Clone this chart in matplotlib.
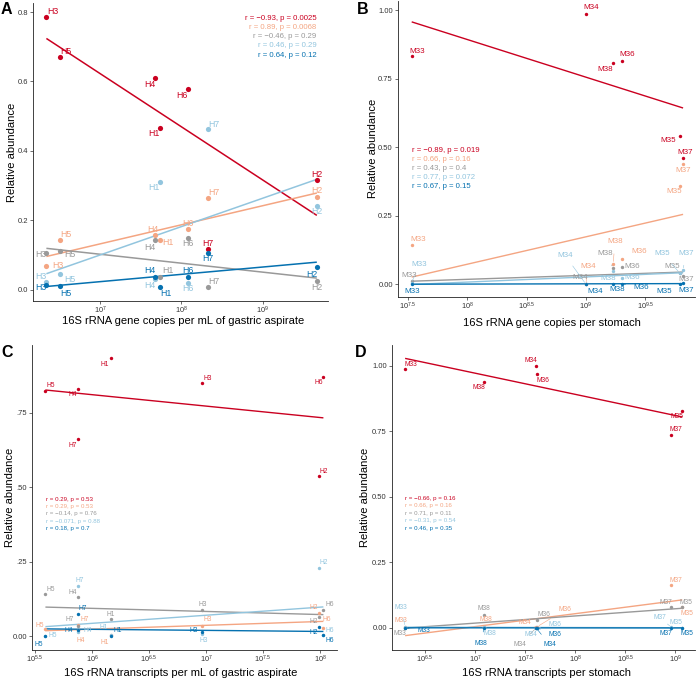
import numpy as np
import matplotlib
matplotlib.use('Agg')
import matplotlib.pyplot as plt

plt.rcParams['font.family'] = ['Liberation Sans', 'DejaVu Sans']
plt.rcParams['mathtext.default'] = 'regular'

# ---------------- data ----------------
colors = ['#CA0020', '#F4A582', '#999999', '#92C5DE', '#0571B0']

# Panel A: 16S rRNA gene copies per mL of gastric aspirate
a_samples = ['H1', 'H2', 'H3', 'H4', 'H5', 'H6', 'H7']
a_x = [5.5e7, 4.6e9, 2.2e6, 4.8e7, 3.2e6, 1.2e8, 2.1e8]
a_red = [0.467, 0.315, 0.786, 0.609, 0.671, 0.578, 0.117]
a_orange = [0.143, 0.268, 0.069, 0.157, 0.143, 0.176, 0.264]
a_gray = [0.036, 0.027, 0.105, 0.143, 0.111, 0.150, 0.009]
a_lblue = [0.312, 0.242, 0.024, 0.032, 0.046, 0.021, 0.462]
a_dblue = [0.008, 0.065, 0.013, 0.038, 0.010, 0.037, 0.107]
a_stats = ['r = \u22120.93, p = 0.0025', 'r = 0.89, p = 0.0068', 'r = \u22120.46, p = 0.29',
           'r = 0.46, p = 0.29', 'r = 0.64, p = 0.12']

# Panel B: 16S rRNA gene copies per stomach
b_samples = ['M33', 'M34', 'M35', 'M36', 'M37', 'M38']
b_x = [3.4e7, 1.0e9, 6.2e9, 2.0e9, 6.6e9, 1.7e9]
b_red = [0.832, 0.986, 0.540, 0.816, 0.460, 0.809]
b_orange = [0.143, 0.0, 0.358, 0.090, 0.438, 0.075]
b_gray = [0.010, 0.0, 0.040, 0.062, 0.030, 0.060]
b_lblue = [0.005, 0.0, 0.040, 0.024, 0.052, 0.049]
b_dblue = [0.0, 0.0, 0.001, 0.002, 0.003, 0.001]
b_stats = ['r = \u22120.89, p = 0.019', 'r = 0.66, p = 0.16', 'r = 0.43, p = 0.4',
           'r = 0.77, p = 0.072', 'r = 0.67, p = 0.15']

# Panel C: 16S rRNA transcripts per mL of gastric aspirate
c_samples = ['H1', 'H2', 'H3', 'H4', 'H5', 'H6', 'H7']
c_x = [1.46e6, 9.8e7, 9.3e6, 7.6e5, 3.9e5, 1.07e8, 7.5e5]
c_red = [0.932, 0.537, 0.848, 0.830, 0.822, 0.870, 0.660]
c_orange = [0.003, 0.076, 0.035, 0.020, 0.022, 0.026, 0.037]
c_gray = [0.057, 0.065, 0.087, 0.130, 0.142, 0.087, 0.035]
c_lblue = [0.003, 0.227, 0.007, 0.012, 0.001, 0.003, 0.167]
c_dblue = [0.001, 0.031, 0.014, 0.020, 0.000, 0.002, 0.073]
c_stats = ['r = 0.29, p = 0.53', 'r = 0.29, p = 0.53', 'r = \u22120.14, p = 0.76',
           'r = \u22120.071, p = 0.88', 'r = 0.18, p = 0.7']

# Panel D: 16S rRNA transcripts per stomach
d_samples = ['M33', 'M34', 'M35', 'M36', 'M37', 'M38']
d_x = [2.0e6, 4.07e7, 1.17e9, 4.17e7, 9.1e8, 1.23e7]
d_red = [0.987, 1.0, 0.829, 0.968, 0.737, 0.938]
d_orange = [0.005, 0.003, 0.079, 0.005, 0.164, 0.005]
d_gray = [0.0, 0.0, 0.080, 0.030, 0.079, 0.050]
d_lblue = [0.005, 0.0, 0.001, 0.0, 0.003, 0.003]
d_dblue = [0.001, 0.0, 0.0, 0.0, 0.001, 0.001]
d_stats = ['r = \u22120.66, p = 0.16', 'r = 0.66, p = 0.16', 'r = 0.71, p = 0.11',
           'r = \u22120.31, p = 0.54', 'r = 0.46, p = 0.35']

# ---------------- label layout (offsets in pixels, per series, per sample) ----------------
a_off = [
    [(-6, -6.3), (0, 5.7), (6, 5.3), (-5.7, -6), (6, 5.7), (-5.5, -6.7), (0, 5.3)],
    [(7.7, -2.4), (0, 6.3), (11.7, 0), (-2.4, 6), (6.4, 5.6), (0, 5.7), (6.3, 6)],
    [(7.7, 6.6), (0, -7), (-6, -1.5), (-5.7, -7), (10, -3), (0, -5.6), (6.3, 5.3)],
    [(-6, -6), (0, -5.7), (-5.4, 5), (-5.7, -7), (10, -5.3), (0, -5.6), (6.3, 5.3)],
    [(5.7, -6.7), (-5.3, -6.7), (-6, -2.3), (-5.7, 5.7), (6.4, -6.6), (0, 6.3), (0, -5.6)],
]
b_off = [
    [(5.7, 5.3), (5.6, 6.4), (-11.4, -4.7), (5.6, 6), (2, 5.3), (-7.7, -6.7)],
    [(6.4, 5.7), (2.3, 18), (-5.7, -5.7), (17.3, 7.6), (0, -6), (1.7, 21.6)],
    [(-2.6, 6.3), (-6, 6.7), (-7.4, 7), (10.6, 1), (2.6, -3.6), (-8.3, 13.7)],
    [(7.4, 18.6), (-21, 29), (-17.4, 19.7), (10.6, 0), (2.6, 16.4), (-5, -7.6)],
    [(0, -7.7), (9, -7.7), (-15.7, -7.7), (20, -4.3), (2.6, -7.7), (4.3, -6)],
]
c_off = [
    [(-5.7, -6), (5, 5), (5, 5), (-5.6, -5.6), (5.7, 5.3), (-5, -5.6), (-5, -5.7)],
    [(-5.7, -7.3), (-5.7, 5.6), (5, 5.7), (2.3, -10.7), (-5.3, 4.3), (3.4, 8.3), (7.3, 5.7)],
    [(0, 5), (-5.7, -5), (0, 5.7), (-5.6, 5), (5, 4.7), (6, 5.7), (-7.7, 6.3)],
    [(-7.4, 7.3), (5, 5.6), (1.7, -6.7), (9, 2.3), (7.3, 0), (6.7, 4.3), (2.3, 5.6)],
    [(6.6, 5.7), (-5.7, -5.6), (-9, 1.7), (-10, 0), (-6.7, -8), (6, -5.3), (5, 5.3)],
]
d_off = [
    [(6, 5), (-5.6, 5), (-5, -6), (5.3, -6.4), (5, 5), (-5.3, -5.4)],
    [(-4, 5.7), (-11.3, 4.5), (4.3, -6), (27.3, 16.7), (5, 4.3), (1.3, 7)],
    [(-5.6, -5.3), (-16.6, -16.3), (3.3, 4.7), (6.3, 5.7), (-5, 5), (0, 6)],
    [(-4, 19.4), (-5.6, -6.3), (-6.7, 5), (18, 3.7), (-11.7, 9.5), (5.7, -6.1)],
    [(18.7, -2.7), (13.7, -17), (5, -6), (17.3, -7), (-5, -6), (-3.7, -16)],
]

W, H = 696, 680
fig = plt.figure(figsize=(W / 100, H / 100), dpi=100)


def fx(px):
    return px / W


def fy(py):
    return 1 - py / H


def make_ax(l, r, t, b):
    return fig.add_axes([fx(l), fy(b), (r - l) / W, (b - t) / H])


def draw(ax, xs, series, samples, offs, msize, fsize, lw):
    lx = np.log10(np.array(xs))
    for k, ys in enumerate(series):
        ys = np.array(ys)
        c = colors[k]
        ax.scatter(xs, ys, s=msize, color=c, zorder=3, linewidths=0)
        slope, icpt = np.polyfit(lx, ys, 1)
        xl = np.array([lx.min(), lx.max()])
        ax.plot(10 ** xl, icpt + slope * xl, color=c, lw=lw, zorder=2,
                solid_capstyle='butt')
        for i, name in enumerate(samples):
            dx, dy = offs[k][i]
            far = (dx * dx + dy * dy) ** 0.5 > 12
            ax.annotate(name, (xs[i], ys[i]), xytext=(dx, dy),
                        textcoords='offset pixels', ha='center', va='center',
                        fontsize=fsize, color=c, zorder=4, annotation_clip=False,
                        arrowprops=(dict(arrowstyle='-', color=c, lw=0.4,
                                         shrinkA=4, shrinkB=1.5) if far else None))


def style(ax, xlog, ylim, xt, yt, ytl):
    ax.set_xscale('log')
    ax.set_xlim(10 ** xlog[0], 10 ** xlog[1])
    ax.set_ylim(*ylim)
    ax.set_xticks([10 ** v for v in xt])
    ax.set_xticklabels(['$10^{%s}$' % (('%g' % v)) for v in xt])
    ax.xaxis.set_minor_locator(matplotlib.ticker.NullLocator())
    ax.set_yticks(yt)
    ax.set_yticklabels(ytl)
    for s in ['top', 'right']:
        ax.spines[s].set_visible(False)
    for s in ['left', 'bottom']:
        ax.spines[s].set_linewidth(0.6)
        ax.spines[s].set_color('#222222')
    ax.tick_params(axis='both', labelsize=5.5, length=2.2, width=0.5,
                   colors='#333333', pad=1.5)
    ax.tick_params(axis='x', pad=0.6, labelsize=5.3)
    ax.patch.set_alpha(0)


# Panel A
axA = make_ax(33, 328, 3, 301)
draw(axA, a_x, [a_red, a_orange, a_gray, a_lblue, a_dblue], a_samples, a_off, 14, 6.3, 1.1)
style(axA, (6.178, 9.80), (-0.032, 0.826), [7, 8, 9], [0, 0.2, 0.4, 0.6, 0.8],
      ['0.0', '0.2', '0.4', '0.6', '0.8'])
for i, t in enumerate(a_stats):
    fig.text(fx(316.7), fy(18.3 + 9.2 * i), t, ha='right', va='center', fontsize=5.6, color=colors[i])

# Panel B
axB = make_ax(398, 695, 0.5, 296.7)
draw(axB, b_x, [b_red, b_orange, b_gray, b_lblue, b_dblue], b_samples, b_off, 6, 5.8, 1.0)
style(axB, (7.416, 9.92), (-0.046, 1.036), [7.5, 8, 8.5, 9, 9.5], [0, 0.25, 0.5, 0.75, 1.0],
      ['0.00', '0.25', '0.50', '0.75', '1.00'])
for i, t in enumerate(b_stats):
    fig.text(fx(412.3), fy(150 + 9.25 * i), t, ha='left', va='center', fontsize=5.6, color=colors[i])

# Panel C
axC = make_ax(32.3, 336.7, 345, 650)
draw(axC, c_x, [c_red, c_orange, c_gray, c_lblue, c_dblue], c_samples, c_off, 6, 4.8, 1.0)
style(axC, (5.476, 8.146), (-0.047, 0.977), [5.5, 6, 6.5, 7, 7.5, 8], [0, 0.25, 0.5, 0.75],
      ['0.00', '.25', '.50', '.75'])
for i, t in enumerate(c_stats):
    fig.text(fx(46), fy(499 + 7.35 * i), t, ha='left', va='center', fontsize=4.4, color=colors[i])

# Panel D
axD = make_ax(392, 695.5, 345, 650)
draw(axD, d_x, [d_red, d_orange, d_gray, d_lblue, d_dblue], d_samples, d_off, 6, 4.8, 1.0)
style(axD, (6.17, 9.2), (-0.084, 1.08), [6.5, 7, 7.5, 8, 8.5, 9], [0, 0.25, 0.5, 0.75, 1.0],
      ['0.00', '0.25', '0.50', '0.75', '1.00'])
for i, t in enumerate(d_stats):
    fig.text(fx(405.3), fy(498.3 + 7.5 * i), t, ha='left', va='center', fontsize=4.4, color=colors[i])

# axis titles
xlabs = [('16S rRNA gene copies per mL of gastric aspirate', 183, 321.5),
         ('16S rRNA gene copies per stomach', 552, 323),
         ('16S rRNA transcripts per mL of gastric aspirate', 181, 672.5),
         ('16S rRNA transcripts per stomach', 547, 673)]
for t, x, y in xlabs:
    fig.text(fx(x), fy(y), t, ha='center', va='center', fontsize=8.0, color='black')
for x, y in [(12, 152), (373, 148), (10, 497.5), (364.7, 497.5)]:
    fig.text(fx(x), fy(y), 'Relative abundance', ha='center', va='center', rotation=90,
             fontsize=8.0, color='black')
for t, x, y in [('A', 1, 10), ('B', 357, 9), ('C', 1, 352), ('D', 355, 352)]:
    fig.text(fx(x), fy(y), t, ha='left', va='center', fontsize=11.5, fontweight='bold')

fig.savefig('out.png', dpi=100)
